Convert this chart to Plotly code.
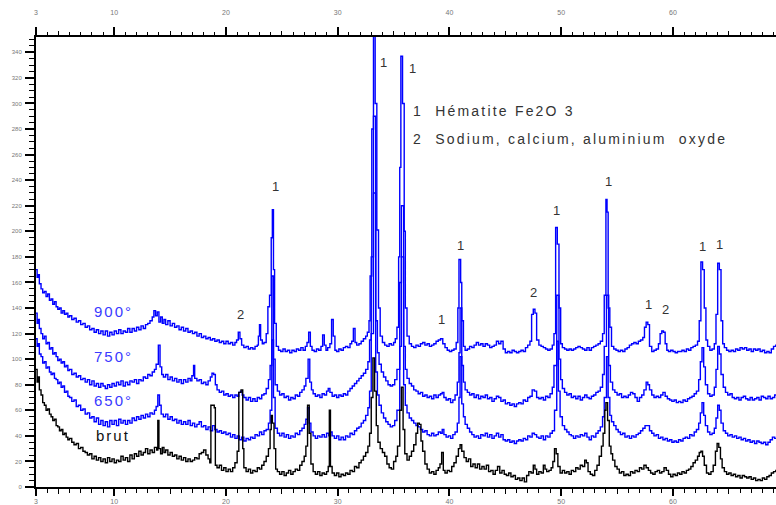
import plotly.graph_objects as go

# ---- data (2theta, intensity) ----
brut = [(3.0, 92), (3.1, 82), (3.2, 86), (3.3, 76), (3.45, 72), (3.6, 66), (3.75, 64), (3.9, 60), (4.05, 61), (4.2, 57),
        (4.35, 55), (4.5, 52), (4.65, 53), (4.8, 48), (4.95, 47), (5.1, 44), (5.25, 45), (5.4, 41), (5.55, 42), (5.7, 39),
        (5.85, 37), (6.0, 38), (6.2, 35), (6.4, 33), (6.6, 34), (6.8, 30), (7.0, 31), (7.2, 28), (7.4, 27), (7.6, 25),
        (7.8, 26), (8.0, 22), (8.2, 24), (8.4, 21), (8.6, 23), (8.8, 20), (9.0, 22), (9.2, 19), (9.4, 23), (9.6, 20),
        (9.8, 22), (10.0, 19), (10.2, 21), (10.4, 20), (10.6, 24), (10.8, 21), (11.0, 23), (11.2, 20), (11.4, 25),
        (11.6, 22), (11.8, 26), (12.0, 24), (12.2, 28), (12.4, 25), (12.6, 27), (12.8, 30), (13.0, 26), (13.2, 29),
        (13.4, 27), (13.6, 31), (13.8, 29), (13.9, 52), (14.0, 30), (14.15, 26), (14.3, 31), (14.45, 27), (14.6, 29),
        (14.8, 25), (15.0, 27), (15.2, 24), (15.4, 25), (15.6, 22), (15.8, 24), (16.0, 21), (16.2, 23), (16.4, 20),
        (16.6, 22), (16.8, 20), (17.0, 21), (17.2, 23), (17.4, 22), (17.6, 26), (17.8, 27), (18.0, 29), (18.2, 25),
        (18.4, 22), (18.55, 19), (18.65, 64), (18.95, 62), (19.05, 17), (19.2, 15), (19.4, 17), (19.6, 13), (19.8, 15),
        (20.0, 12), (20.2, 14), (20.4, 12), (20.6, 15), (20.8, 19), (21.0, 28), (21.15, 74), (21.35, 76), (21.5, 30),
        (21.6, 15), (21.8, 12), (22.0, 14), (22.2, 11), (22.4, 13), (22.6, 12), (22.8, 15), (23.0, 14), (23.2, 17),
        (23.4, 20), (23.6, 24), (23.8, 30), (23.95, 45), (24.05, 56), (24.15, 50), (24.3, 30), (24.45, 14), (24.6, 12),
        (24.8, 10), (25.0, 12), (25.2, 9), (25.4, 11), (25.6, 13), (25.8, 10), (26.0, 12), (26.2, 14), (26.4, 13),
        (26.6, 17), (26.8, 20), (27.0, 24), (27.15, 32), (27.3, 64), (27.45, 42), (27.6, 18), (27.8, 12), (28.0, 10),
        (28.2, 12), (28.4, 9), (28.6, 11), (28.8, 10), (29.0, 12), (29.15, 16), (29.25, 60), (29.35, 16), (29.5, 11),
        (29.7, 9), (29.9, 11), (30.1, 8), (30.3, 10), (30.5, 9), (30.7, 11), (30.9, 10), (31.1, 13), (31.3, 12),
        (31.5, 16), (31.7, 15), (31.9, 19), (32.1, 21), (32.3, 24), (32.5, 27), (32.7, 32), (32.85, 42), (33.0, 70),
        (33.15, 101), (33.3, 75), (33.45, 48), (33.6, 35), (33.8, 30), (34.0, 27), (34.2, 24), (34.4, 18), (34.6, 15),
        (34.8, 14), (35.0, 20), (35.2, 24), (35.35, 32), (35.55, 60), (35.7, 78), (35.85, 45), (36.0, 26), (36.2, 21),
        (36.4, 24), (36.6, 28), (36.8, 33), (37.0, 42), (37.15, 50), (37.3, 49), (37.45, 36), (37.6, 28), (37.8, 18),
        (38.0, 14), (38.2, 11), (38.4, 12), (38.6, 10), (38.8, 13), (39.0, 15), (39.15, 18), (39.3, 27), (39.45, 13),
        (39.6, 11), (39.8, 13), (40.0, 12), (40.2, 16), (40.4, 19), (40.6, 24), (40.8, 30), (40.95, 33), (41.1, 28),
        (41.3, 23), (41.5, 20), (41.7, 22), (41.9, 16), (42.1, 18), (42.3, 15), (42.5, 18), (42.7, 14), (42.9, 16),
        (43.1, 14), (43.3, 17), (43.5, 12), (43.7, 13), (43.9, 10), (44.1, 13), (44.3, 16), (44.5, 11), (44.7, 13),
        (44.9, 10), (45.1, 9), (45.3, 11), (45.5, 8), (45.7, 9), (45.9, 6), (46.1, 7), (46.3, 5), (46.5, 7), (46.7, 4),
        (46.9, 9), (47.1, 12), (47.3, 11), (47.5, 17), (47.65, 14), (47.8, 10), (48.0, 12), (48.2, 11), (48.4, 17),
        (48.55, 14), (48.7, 12), (48.9, 13), (49.1, 15), (49.25, 20), (49.4, 30), (49.55, 26), (49.7, 16), (49.9, 11),
        (50.1, 13), (50.3, 11), (50.5, 12), (50.7, 10), (50.9, 13), (51.1, 12), (51.3, 15), (51.5, 14), (51.7, 17),
        (51.9, 16), (52.1, 21), (52.25, 19), (52.4, 12), (52.6, 10), (52.8, 9), (53.0, 13), (53.2, 17), (53.4, 24),
        (53.6, 32), (53.75, 42), (53.9, 60), (54.0, 66), (54.15, 52), (54.3, 32), (54.45, 26), (54.6, 21), (54.8, 16),
        (55.0, 14), (55.2, 11), (55.4, 12), (55.6, 9), (55.8, 10), (56.0, 9), (56.2, 12), (56.4, 11), (56.6, 13),
        (56.8, 12), (57.0, 15), (57.2, 14), (57.4, 17), (57.6, 15), (57.8, 13), (58.0, 11), (58.2, 10), (58.4, 12),
        (58.6, 13), (58.8, 11), (59.0, 12), (59.2, 15), (59.4, 13), (59.6, 10), (59.8, 8), (60.0, 10), (60.2, 9),
        (60.4, 11), (60.6, 10), (60.8, 12), (61.0, 11), (61.2, 13), (61.4, 14), (61.6, 16), (61.8, 19), (62.0, 21),
        (62.2, 24), (62.35, 27), (62.5, 28), (62.65, 24), (62.8, 17), (63.0, 11), (63.2, 10), (63.4, 12), (63.6, 17),
        (63.8, 28), (63.95, 34), (64.1, 31), (64.25, 22), (64.4, 15), (64.6, 12), (64.8, 10), (65.0, 11), (65.2, 9),
        (65.4, 10), (65.6, 8), (65.8, 9), (66.0, 7), (66.2, 9), (66.4, 8), (66.6, 7), (66.8, 8), (67.0, 6), (67.2, 7),
        (67.4, 5), (67.6, 6), (67.8, 5), (68.0, 7), (68.2, 6), (68.4, 8), (68.6, 9), (68.8, 11), (69.0, 12), (69.2, 13),
        (69.3, 12)]

s650 = [(3.0, 116), (3.1, 110), (3.2, 112), (3.3, 104), (3.45, 102), (3.6, 97), (3.75, 98), (3.9, 93), (4.05, 94),
        (4.2, 90), (4.35, 88), (4.5, 89), (4.65, 85), (4.8, 84), (4.95, 81), (5.1, 82), (5.25, 78), (5.4, 79), (5.55, 74),
        (5.7, 75), (5.85, 71), (6.0, 70), (6.2, 67), (6.4, 68), (6.6, 63), (6.8, 64), (7.0, 60), (7.2, 61), (7.4, 57),
        (7.6, 58), (7.8, 54), (8.0, 55), (8.2, 51), (8.4, 54), (8.6, 49), (8.8, 52), (9.0, 48), (9.2, 51), (9.4, 47),
        (9.6, 52), (9.8, 49), (10.0, 52), (10.2, 48), (10.4, 53), (10.6, 50), (10.8, 52), (11.0, 49), (11.2, 52),
        (11.4, 50), (11.6, 54), (11.8, 52), (12.0, 55), (12.2, 53), (12.4, 56), (12.6, 54), (12.8, 57), (13.0, 55),
        (13.2, 58), (13.4, 57), (13.6, 60), (13.75, 63), (13.9, 72), (14.05, 64), (14.2, 57), (14.4, 55), (14.6, 57),
        (14.8, 53), (15.0, 55), (15.2, 52), (15.4, 53), (15.6, 50), (15.8, 52), (16.0, 49), (16.2, 51), (16.4, 49),
        (16.6, 52), (16.8, 48), (17.0, 50), (17.2, 47), (17.4, 49), (17.6, 51), (17.8, 47), (18.0, 48), (18.2, 45),
        (18.4, 47), (18.6, 44), (18.8, 48), (19.0, 45), (19.2, 43), (19.4, 44), (19.6, 42), (19.8, 43), (20.0, 41),
        (20.2, 42), (20.4, 39), (20.6, 41), (20.8, 38), (21.0, 40), (21.2, 37), (21.4, 39), (21.6, 36), (21.8, 38),
        (22.0, 37), (22.2, 39), (22.4, 38), (22.6, 41), (22.8, 40), (23.0, 43), (23.2, 41), (23.4, 44), (23.6, 45),
        (23.8, 50), (23.95, 60), (24.1, 115), (24.25, 70), (24.4, 46), (24.6, 42), (24.8, 40), (25.0, 42), (25.2, 39),
        (25.4, 41), (25.6, 38), (25.8, 40), (26.0, 39), (26.2, 42), (26.4, 41), (26.6, 44), (26.8, 46), (27.0, 49),
        (27.15, 53), (27.3, 62), (27.45, 50), (27.6, 43), (27.8, 40), (28.0, 38), (28.2, 40), (28.4, 39), (28.6, 41),
        (28.8, 39), (29.0, 42), (29.2, 40), (29.35, 43), (29.5, 40), (29.7, 38), (29.9, 40), (30.1, 37), (30.3, 39),
        (30.5, 37), (30.7, 40), (30.9, 39), (31.1, 42), (31.3, 41), (31.5, 44), (31.7, 46), (31.9, 47), (32.1, 50),
        (32.3, 52), (32.5, 56), (32.7, 62), (32.85, 75), (33.0, 120), (33.2, 230), (33.4, 90), (33.55, 72), (33.7, 64),
        (33.9, 58), (34.1, 54), (34.3, 51), (34.5, 49), (34.7, 47), (34.9, 48), (35.1, 52), (35.3, 60), (35.55, 110),
        (35.7, 180), (35.9, 80), (36.05, 64), (36.2, 58), (36.4, 54), (36.6, 52), (36.8, 50), (37.0, 48), (37.2, 47),
        (37.4, 45), (37.6, 43), (37.8, 44), (38.0, 41), (38.2, 40), (38.4, 42), (38.6, 40), (38.8, 41), (39.0, 43),
        (39.2, 42), (39.35, 45), (39.5, 41), (39.7, 39), (39.9, 40), (40.1, 38), (40.3, 41), (40.5, 43), (40.7, 50),
        (40.85, 70), (40.95, 102), (41.1, 65), (41.25, 55), (41.4, 49), (41.6, 46), (41.8, 43), (42.0, 41), (42.2, 39),
        (42.4, 40), (42.6, 38), (42.8, 41), (43.0, 40), (43.2, 42), (43.4, 39), (43.6, 41), (43.8, 38), (44.0, 40),
        (44.2, 42), (44.4, 39), (44.6, 41), (44.8, 37), (45.0, 36), (45.2, 37), (45.4, 35), (45.6, 36), (45.8, 34),
        (46.0, 36), (46.2, 37), (46.4, 36), (46.6, 38), (46.8, 37), (47.0, 40), (47.2, 39), (47.4, 42), (47.6, 41),
        (47.8, 39), (48.0, 38), (48.2, 40), (48.4, 37), (48.6, 40), (48.8, 39), (49.0, 42), (49.2, 44), (49.4, 60),
        (49.6, 114), (49.75, 75), (49.9, 55), (50.1, 48), (50.3, 45), (50.5, 43), (50.7, 41), (50.9, 40), (51.1, 38),
        (51.3, 40), (51.5, 39), (51.7, 41), (51.9, 40), (52.1, 42), (52.3, 39), (52.5, 37), (52.7, 40), (52.9, 39),
        (53.1, 42), (53.3, 44), (53.5, 47), (53.7, 55), (53.85, 70), (54.05, 102), (54.2, 70), (54.35, 56), (54.5, 51),
        (54.7, 48), (54.9, 45), (55.1, 43), (55.3, 41), (55.5, 42), (55.7, 39), (55.9, 40), (56.1, 38), (56.3, 40),
        (56.5, 39), (56.7, 41), (56.9, 42), (57.1, 44), (57.3, 46), (57.5, 48), (57.7, 48), (57.9, 44), (58.1, 42),
        (58.3, 40), (58.5, 41), (58.7, 38), (58.9, 39), (59.1, 37), (59.3, 38), (59.5, 36), (59.7, 37), (59.9, 35),
        (60.1, 36), (60.3, 35), (60.5, 37), (60.7, 36), (60.9, 38), (61.1, 39), (61.3, 38), (61.5, 41), (61.7, 40),
        (61.9, 43), (62.1, 45), (62.3, 50), (62.45, 58), (62.6, 66), (62.75, 56), (62.9, 48), (63.1, 43), (63.3, 41),
        (63.5, 42), (63.7, 46), (63.85, 54), (64.0, 64), (64.15, 60), (64.3, 50), (64.5, 44), (64.7, 42), (64.9, 40),
        (65.1, 41), (65.3, 39), (65.5, 40), (65.7, 38), (65.9, 39), (66.1, 37), (66.3, 38), (66.5, 36), (66.7, 37),
        (66.9, 35), (67.1, 36), (67.3, 34), (67.5, 36), (67.7, 35), (67.9, 34), (68.1, 35), (68.3, 33), (68.5, 35),
        (68.7, 37), (68.9, 39), (69.1, 38), (69.3, 39)]

s750 = [(3.0, 136), (3.1, 128), (3.2, 131), (3.3, 124), (3.45, 120), (3.6, 116), (3.75, 118), (3.9, 112), (4.05, 113),
        (4.2, 108), (4.35, 109), (4.5, 104), (4.65, 105), (4.8, 102), (4.95, 99), (5.1, 100), (5.25, 97), (5.4, 98),
        (5.55, 94), (5.7, 95), (5.85, 91), (6.0, 92), (6.2, 88), (6.4, 89), (6.6, 86), (6.8, 87), (7.0, 84), (7.2, 85),
        (7.4, 82), (7.6, 84), (7.8, 80), (8.0, 83), (8.2, 79), (8.4, 81), (8.6, 78), (8.8, 81), (9.0, 79), (9.2, 77),
        (9.4, 80), (9.6, 78), (9.8, 81), (10.0, 79), (10.2, 82), (10.4, 80), (10.6, 83), (10.8, 79), (11.0, 82),
        (11.2, 80), (11.4, 83), (11.6, 82), (11.8, 84), (12.0, 81), (12.2, 84), (12.4, 83), (12.6, 86), (12.8, 85),
        (13.0, 88), (13.2, 87), (13.4, 90), (13.6, 92), (13.75, 96), (13.95, 111), (14.1, 94), (14.25, 88), (14.4, 86),
        (14.6, 88), (14.8, 84), (15.0, 86), (15.2, 83), (15.4, 85), (15.6, 82), (15.8, 84), (16.0, 81), (16.2, 84),
        (16.4, 82), (16.6, 85), (16.8, 83), (16.95, 87), (17.1, 95), (17.2, 85), (17.4, 83), (17.6, 84), (17.8, 81),
        (18.0, 82), (18.2, 80), (18.4, 83), (18.6, 86), (18.75, 89), (18.9, 88), (19.05, 80), (19.2, 76), (19.4, 74),
        (19.6, 75), (19.8, 72), (20.0, 73), (20.2, 71), (20.4, 72), (20.6, 70), (20.8, 72), (21.0, 71), (21.15, 74),
        (21.3, 75), (21.45, 72), (21.6, 70), (21.8, 68), (22.0, 70), (22.2, 67), (22.4, 69), (22.6, 67), (22.8, 70),
        (23.0, 69), (23.2, 72), (23.4, 73), (23.6, 77), (23.8, 84), (23.95, 95), (24.1, 165), (24.25, 100), (24.4, 80),
        (24.6, 75), (24.8, 72), (25.0, 73), (25.2, 70), (25.4, 71), (25.6, 68), (25.8, 70), (26.0, 69), (26.2, 72),
        (26.4, 71), (26.6, 74), (26.8, 76), (27.0, 79), (27.15, 85), (27.35, 100), (27.5, 82), (27.65, 76), (27.8, 73),
        (28.0, 71), (28.2, 72), (28.4, 70), (28.6, 73), (28.8, 72), (29.0, 75), (29.15, 77), (29.3, 74), (29.5, 71),
        (29.7, 72), (29.9, 70), (30.1, 72), (30.3, 71), (30.5, 73), (30.7, 72), (30.9, 75), (31.1, 77), (31.3, 79),
        (31.5, 81), (31.7, 83), (31.9, 85), (32.1, 87), (32.3, 89), (32.5, 92), (32.7, 98), (32.85, 115), (33.0, 180),
        (33.2, 290), (33.4, 130), (33.55, 105), (33.7, 96), (33.9, 90), (34.1, 86), (34.3, 83), (34.5, 80), (34.7, 79),
        (34.9, 80), (35.1, 84), (35.3, 92), (35.55, 160), (35.7, 220), (35.9, 110), (36.05, 92), (36.2, 85), (36.4, 81),
        (36.6, 79), (36.8, 76), (37.0, 75), (37.2, 73), (37.4, 74), (37.6, 71), (37.8, 72), (38.0, 70), (38.2, 71),
        (38.4, 69), (38.6, 72), (38.8, 70), (39.0, 72), (39.2, 73), (39.35, 74), (39.5, 70), (39.7, 68), (39.9, 69),
        (40.1, 66), (40.3, 68), (40.5, 72), (40.7, 82), (40.85, 105), (40.95, 140), (41.1, 95), (41.25, 82), (41.4, 76),
        (41.6, 74), (41.8, 72), (42.0, 73), (42.2, 70), (42.4, 72), (42.6, 69), (42.8, 71), (43.0, 70), (43.2, 72),
        (43.4, 69), (43.6, 70), (43.8, 67), (44.0, 69), (44.2, 71), (44.4, 70), (44.6, 67), (44.8, 68), (45.0, 65),
        (45.2, 66), (45.4, 64), (45.6, 65), (45.8, 63), (46.0, 65), (46.2, 66), (46.4, 65), (46.6, 68), (46.8, 67),
        (47.0, 70), (47.2, 71), (47.4, 76), (47.6, 75), (47.8, 70), (48.0, 69), (48.2, 70), (48.4, 68), (48.6, 71),
        (48.8, 70), (49.0, 73), (49.2, 78), (49.35, 95), (49.6, 150), (49.8, 100), (49.95, 84), (50.1, 77), (50.3, 74),
        (50.5, 72), (50.7, 73), (50.9, 70), (51.1, 71), (51.3, 69), (51.5, 71), (51.7, 68), (51.9, 70), (52.1, 72),
        (52.3, 70), (52.5, 69), (52.7, 71), (52.9, 72), (53.1, 74), (53.3, 75), (53.5, 78), (53.7, 88), (53.85, 110),
        (54.05, 150), (54.25, 95), (54.4, 82), (54.6, 76), (54.8, 74), (55.0, 72), (55.2, 73), (55.4, 70), (55.6, 71),
        (55.8, 70), (56.0, 72), (56.2, 74), (56.4, 73), (56.6, 70), (56.8, 67), (57.0, 70), (57.2, 72), (57.4, 76),
        (57.6, 82), (57.75, 80), (57.9, 76), (58.1, 72), (58.3, 70), (58.5, 71), (58.7, 70), (58.9, 72), (59.1, 74),
        (59.3, 71), (59.5, 69), (59.7, 68), (59.9, 67), (60.1, 68), (60.3, 66), (60.5, 67), (60.7, 66), (60.9, 68),
        (61.1, 67), (61.3, 69), (61.5, 70), (61.7, 71), (61.9, 73), (62.1, 75), (62.3, 84), (62.45, 98), (62.6, 109),
        (62.75, 94), (62.9, 80), (63.1, 73), (63.3, 71), (63.5, 72), (63.7, 78), (63.85, 92), (64.0, 110), (64.15, 104),
        (64.3, 88), (64.5, 78), (64.7, 74), (64.9, 72), (65.1, 73), (65.3, 70), (65.5, 69), (65.7, 70), (65.9, 68),
        (66.1, 70), (66.3, 71), (66.5, 69), (66.7, 68), (66.9, 70), (67.1, 68), (67.3, 69), (67.5, 70), (67.7, 68),
        (67.9, 71), (68.1, 70), (68.3, 69), (68.5, 71), (68.7, 69), (68.9, 70), (69.1, 72), (69.3, 71)]

s900 = [(3.0, 170), (3.1, 164), (3.2, 166), (3.3, 159), (3.45, 155), (3.6, 152), (3.75, 153), (3.9, 149), (4.05, 151),
        (4.2, 146), (4.35, 147), (4.5, 143), (4.65, 145), (4.8, 141), (4.95, 139), (5.1, 140), (5.25, 136), (5.4, 138),
        (5.55, 135), (5.7, 136), (5.85, 133), (6.0, 134), (6.2, 131), (6.4, 132), (6.6, 129), (6.8, 130), (7.0, 127),
        (7.2, 128), (7.4, 125), (7.6, 126), (7.8, 123), (8.0, 124), (8.2, 121), (8.4, 123), (8.6, 120), (8.8, 122),
        (9.0, 119), (9.2, 122), (9.4, 118), (9.6, 121), (9.8, 119), (10.0, 122), (10.2, 120), (10.4, 123), (10.6, 120),
        (10.8, 122), (11.0, 121), (11.2, 124), (11.4, 121), (11.6, 124), (11.8, 122), (12.0, 125), (12.2, 123),
        (12.4, 126), (12.6, 124), (12.8, 127), (13.0, 128), (13.2, 130), (13.4, 133), (13.55, 138), (13.7, 134),
        (13.85, 137), (14.0, 129), (14.15, 133), (14.3, 128), (14.45, 131), (14.6, 127), (14.8, 130), (15.0, 126),
        (15.2, 128), (15.4, 125), (15.6, 126), (15.8, 123), (16.0, 125), (16.2, 122), (16.4, 124), (16.6, 121),
        (16.8, 122), (17.0, 120), (17.2, 121), (17.4, 118), (17.6, 120), (17.8, 117), (18.0, 118), (18.2, 116),
        (18.4, 117), (18.6, 115), (18.8, 116), (19.0, 114), (19.2, 115), (19.4, 113), (19.6, 114), (19.8, 112),
        (20.0, 114), (20.2, 112), (20.4, 113), (20.6, 111), (20.8, 113), (20.95, 115), (21.1, 121), (21.25, 116),
        (21.4, 111), (21.6, 109), (21.8, 110), (22.0, 108), (22.2, 109), (22.4, 108), (22.6, 110), (22.8, 111),
        (22.9, 118), (23.0, 127), (23.1, 115), (23.25, 112), (23.4, 113), (23.6, 120), (23.75, 141), (23.9, 150),
        (24.05, 195), (24.15, 217), (24.25, 170), (24.35, 128), (24.5, 110), (24.7, 107), (24.9, 106), (25.1, 108),
        (25.3, 106), (25.5, 107), (25.7, 105), (25.9, 107), (26.1, 106), (26.3, 108), (26.5, 107), (26.7, 109),
        (26.9, 107), (27.1, 110), (27.25, 113), (27.4, 121), (27.55, 110), (27.7, 107), (27.9, 106), (28.1, 108),
        (28.3, 107), (28.5, 110), (28.65, 119), (28.8, 111), (28.95, 107), (29.1, 109), (29.3, 112), (29.45, 131),
        (29.6, 118), (29.75, 107), (29.9, 106), (30.1, 108), (30.3, 107), (30.5, 109), (30.7, 110), (30.9, 109),
        (31.1, 112), (31.25, 114), (31.4, 124), (31.55, 113), (31.7, 111), (31.9, 112), (32.1, 114), (32.3, 116),
        (32.5, 118), (32.65, 121), (32.8, 130), (32.9, 165), (33.05, 280), (33.2, 380), (33.35, 300), (33.5, 201),
        (33.65, 140), (33.8, 118), (34.0, 113), (34.2, 111), (34.4, 110), (34.6, 112), (34.8, 111), (35.0, 113),
        (35.15, 116), (35.3, 125), (35.45, 180), (35.55, 250), (35.65, 337), (35.8, 300), (35.95, 200), (36.05, 140),
        (36.2, 118), (36.4, 112), (36.6, 110), (36.8, 109), (37.0, 111), (37.2, 110), (37.4, 112), (37.6, 113),
        (37.8, 111), (38.0, 112), (38.2, 110), (38.4, 111), (38.6, 112), (38.8, 114), (39.0, 115), (39.2, 116),
        (39.4, 112), (39.6, 109), (39.8, 107), (40.0, 106), (40.2, 107), (40.4, 108), (40.6, 113), (40.75, 140),
        (40.85, 178), (41.0, 160), (41.1, 130), (41.25, 110), (41.4, 107), (41.6, 108), (41.8, 110), (42.0, 109),
        (42.2, 111), (42.4, 113), (42.6, 111), (42.8, 112), (43.0, 110), (43.2, 112), (43.4, 111), (43.6, 109),
        (43.8, 110), (44.0, 111), (44.2, 114), (44.4, 112), (44.6, 114), (44.8, 108), (45.0, 105), (45.2, 106),
        (45.4, 105), (45.6, 107), (45.8, 106), (46.0, 105), (46.2, 106), (46.4, 107), (46.6, 106), (46.8, 109),
        (47.0, 111), (47.2, 114), (47.35, 135), (47.5, 139), (47.65, 136), (47.8, 115), (48.0, 111), (48.2, 110),
        (48.4, 109), (48.6, 108), (48.8, 107), (49.0, 108), (49.2, 111), (49.35, 120), (49.5, 203), (49.65, 190),
        (49.8, 140), (49.95, 112), (50.1, 109), (50.3, 108), (50.5, 107), (50.7, 108), (50.9, 107), (51.1, 108),
        (51.3, 109), (51.5, 110), (51.7, 109), (51.9, 108), (52.1, 107), (52.3, 109), (52.5, 107), (52.7, 109),
        (52.9, 110), (53.1, 111), (53.3, 112), (53.5, 114), (53.7, 120), (53.85, 150), (54.0, 225), (54.1, 215),
        (54.2, 140), (54.35, 125), (54.5, 110), (54.7, 108), (54.9, 107), (55.1, 106), (55.3, 107), (55.5, 106),
        (55.7, 108), (55.9, 109), (56.1, 111), (56.3, 112), (56.5, 113), (56.7, 112), (56.9, 114), (57.1, 115),
        (57.3, 117), (57.45, 125), (57.6, 129), (57.75, 127), (57.9, 110), (58.1, 106), (58.3, 107), (58.5, 108),
        (58.7, 112), (58.85, 120), (59.0, 122), (59.15, 121), (59.3, 112), (59.45, 107), (59.6, 106), (59.8, 107),
        (60.0, 106), (60.2, 105), (60.4, 106), (60.6, 106), (60.8, 107), (61.0, 106), (61.2, 108), (61.4, 107),
        (61.6, 109), (61.8, 110), (62.0, 111), (62.2, 114), (62.35, 130), (62.5, 176), (62.65, 170), (62.8, 140),
        (62.95, 115), (63.1, 110), (63.3, 107), (63.5, 108), (63.7, 112), (63.85, 135), (64.0, 175), (64.15, 170),
        (64.3, 130), (64.45, 112), (64.6, 109), (64.8, 107), (65.0, 106), (65.2, 107), (65.4, 106), (65.6, 108),
        (65.8, 107), (66.0, 109), (66.2, 108), (66.4, 109), (66.6, 107), (66.8, 108), (67.0, 106), (67.2, 108),
        (67.4, 107), (67.6, 108), (67.8, 106), (68.0, 107), (68.2, 105), (68.4, 106), (68.6, 105), (68.8, 108),
        (69.0, 110), (69.2, 111), (69.3, 111)]

x_tick_vals = [3, 10, 20, 30, 40, 50, 60]
x_mid_ticks = [5, 15, 25, 35, 45, 55, 65]

# peak marker labels: (2theta, intensity, text)
peak_labels = [(34.14, 332, "1"), (36.65, 327, "1"), (24.39, 235, "1"), (21.34, 135, "2"), (39.33, 131, "1"),
               (41.03, 189, "1"), (47.56, 152, "2"), (49.62, 216, "1"), (54.19, 239, "1"), (57.77, 143, "1"),
               (59.29, 139, "2"), (62.6, 188, "1"), (64.2, 190, "1")]

# sample labels: (2theta, intensity, text, colour)
sample_labels = [(9.9, 137, "900°", "#3a3aff"), (9.9, 102, "750°", "#3a3aff"),
                 (9.9, 68, "650°", "#3a3aff"), (9.9, 40, "brut", "#111111")]

legend_lines = ["1  Hématite Fe2O 3", "2  Sodium, calcium, aluminium  oxyde"]

X_RANGE = [3, 69.22]
Y_RANGE = [0, 352]

fig = go.Figure()
for series, color in [(s900, "#0000ff"), (s750, "#0000ff"), (s650, "#0000ff"), (brut, "#000000")]:
    xs, ys = zip(*series)
    fig.add_trace(go.Scatter(x=xs, y=ys, mode="lines", line=dict(color=color, width=1.4, shape="hv"),
                             showlegend=False, hoverinfo="skip"))
for ax in ["x2", "x3", "x4"]:
    fig.add_trace(go.Scatter(x=[], y=[], xaxis=ax, yaxis="y", showlegend=False, hoverinfo="skip"))

tickfont = dict(family="Liberation Sans", size=7, color="#777777")
base_x = dict(range=X_RANGE, showgrid=False, zeroline=False, ticks="outside", tickcolor="black", automargin=False)

fig.update_layout(
    width=776, height=505,
    margin=dict(l=36, r=0, t=37, b=18),
    paper_bgcolor="white", plot_bgcolor="white",
    xaxis=dict(**base_x, side="bottom", anchor="y", showline=True, linecolor="black", linewidth=2,
               tickvals=x_tick_vals, ticktext=[str(v) for v in x_tick_vals], ticklen=7, tickwidth=1.5,
               tickfont=tickfont, ticklabelstandoff=0,
               minor=dict(tick0=3, dtick=1, ticklen=3.5, tickwidth=1.2, tickcolor="black", ticks="outside",
                          showgrid=False)),
    xaxis2=dict(**base_x, side="top", anchor="y", overlaying="x", showline=True, linecolor="black", linewidth=2,
                tickvals=x_tick_vals, ticktext=[str(v) for v in x_tick_vals], ticklen=8, tickwidth=1.5,
                tickfont=tickfont, ticklabelstandoff=9,
                minor=dict(tick0=3, dtick=1, ticklen=3.5, tickwidth=1.2, tickcolor="black", ticks="outside",
                           showgrid=False)),
    xaxis3=dict(**base_x, side="bottom", anchor="y", overlaying="x", showline=False, tickvals=x_mid_ticks,
                ticklen=5.5, tickwidth=1.2, showticklabels=False),
    xaxis4=dict(**base_x, side="top", anchor="y", overlaying="x", showline=False, tickvals=x_mid_ticks,
                ticklen=5.5, tickwidth=1.2, showticklabels=False),
    yaxis=dict(range=Y_RANGE, showgrid=False, zeroline=False, showline=True, linecolor="black", linewidth=2,
               automargin=False, ticks="outside", tickcolor="black", tick0=0, dtick=20, ticklen=9, tickwidth=1.5,
               tickfont=dict(family="Liberation Sans", size=6, color="#777777"), ticklabelstandoff=2,
               minor=dict(tick0=0, dtick=5, ticklen=5, tickwidth=1.2, tickcolor="black", ticks="outside",
                          showgrid=False)),
)

annotations = []
for x, y, t in peak_labels:
    annotations.append(dict(x=x, y=y, xref="x", yref="y", text=t, showarrow=False,
                            font=dict(family="Liberation Sans", size=13, color="#333333")))
for x, y, t, c in sample_labels:
    annotations.append(dict(x=x, y=y, xref="x", yref="y", text=f'<span style="letter-spacing:2px">{t}</span>',
                            showarrow=False, font=dict(family="Liberation Sans", size=15, color=c)))
for i, t in enumerate(legend_lines):
    annotations.append(dict(x=0.5068, y=0.8356 - i * 0.0623, xref="paper", yref="paper", xanchor="left",
                            yanchor="middle", showarrow=False,
                            text=f'<span style="letter-spacing:2.2px">{t}</span>',
                            font=dict(family="Liberation Sans", size=14, color="#333333")))
fig.update_layout(annotations=annotations)

fig.write_html("out.html", config={"displayModeBar": False},
               post_script="document.body.style.margin='0px';document.body.style.overflow='hidden';")
